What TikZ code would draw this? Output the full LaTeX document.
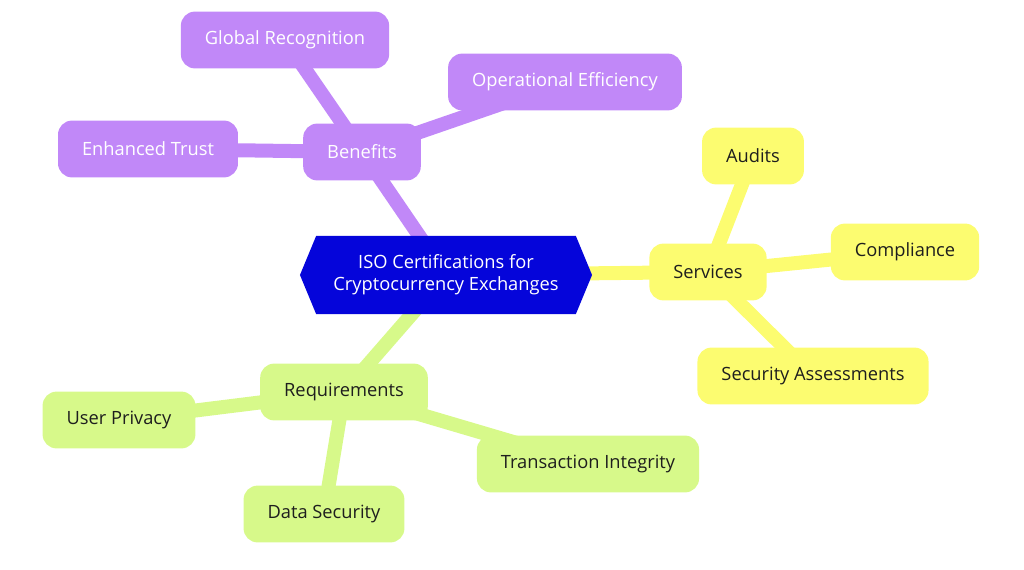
\documentclass[tikz,border=0pt]{standalone}
\usepackage{fontspec}
\setmainfont{Open Sans}
\usetikzlibrary{positioning,backgrounds,shapes.symbols}

\definecolor{benefitpurple}{HTML}{C188F8}
\definecolor{hubblue}{HTML}{0505DA}
\definecolor{serviceyellow}{HTML}{FCFC70}
\definecolor{reqgreen}{HTML}{D7F98A}
\definecolor{darktext}{HTML}{1E1E1E}

\tikzset{
  topic/.style={rounded corners=0.35cm, minimum height=1.42cm, inner xsep=0.6cm,
    font=\fontsize{13}{15.5}\selectfont},
  purplebox/.style={topic, fill=benefitpurple, text=white},
  yellowbox/.style={topic, fill=serviceyellow, text=darktext},
  greenbox/.style={topic, fill=reqgreen, text=darktext},
  hubbox/.style={shape=signal, signal to=west and east, signal pointer angle=135,
    fill=hubblue, text=white, minimum width=7.3cm, minimum height=1.95cm,
    align=center, font=\fontsize{13}{15.5}\selectfont},
  branch/.style={line width=0.35cm},
}

\begin{document}
\begin{tikzpicture}[x=0.025cm, y=-0.025cm]
  \useasboundingbox (0,0) rectangle (1024,570);

  \node[hubbox] (hub) at (446,275) {ISO Certifications for\\Cryptocurrency Exchanges};

  % benefits
  \node[purplebox] (benefits) at (362,152) {Benefits};
  \node[purplebox] (recognition) at (285,40) {Global Recognition};
  \node[purplebox] (efficiency) at (565,82) {Operational Efficiency};
  \node[purplebox] (trust) at (148,149) {Enhanced Trust};

  % services
  \node[yellowbox] (services) at (708,272) {Services};
  \node[yellowbox] (audits) at (753,156) {Audits};
  \node[yellowbox] (compliance) at (905,252) {Compliance};
  \node[yellowbox] (assessments) at (813,376) {Security Assessments};

  % requirements
  \node[greenbox] (requirements) at (344,392) {Requirements};
  \node[greenbox] (privacy) at (119,420) {User Privacy};
  \node[greenbox] (integrity) at (588,464) {Transaction Integrity};
  \node[greenbox] (datasec) at (324,514) {Data Security};

  \begin{scope}[on background layer]
    \draw[branch, benefitpurple] (hub.center) -- (benefits.center);
    \draw[branch, benefitpurple] (benefits.center) -- (recognition.center);
    \draw[branch, benefitpurple] (benefits.center) -- (efficiency.center);
    \draw[branch, benefitpurple] (benefits.center) -- (trust.center);

    \draw[branch, serviceyellow] (hub.center) -- (services.center);
    \draw[branch, serviceyellow] (services.center) -- (audits.center);
    \draw[branch, serviceyellow] (services.center) -- (compliance.center);
    \draw[branch, serviceyellow] (services.center) -- (assessments.center);

    \draw[branch, reqgreen] (hub.center) -- (requirements.center);
    \draw[branch, reqgreen] (requirements.center) -- (privacy.center);
    \draw[branch, reqgreen] (requirements.center) -- (integrity.center);
    \draw[branch, reqgreen] (requirements.center) -- (datasec.center);
  \end{scope}
\end{tikzpicture}
\end{document}
